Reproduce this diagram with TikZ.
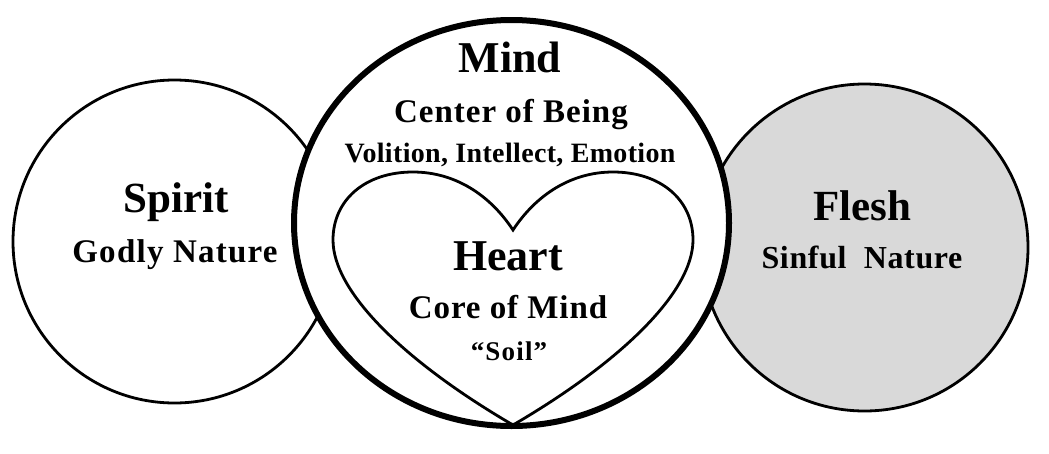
\documentclass[tikz,border=0pt]{standalone}
\usepackage{fontspec}
\setmainfont{Liberation Serif}
\definecolor{fleshgray}{HTML}{D9D9D9}
\tikzset{
  side/.style={draw=black, line width=2.8pt},
  mindring/.style={draw=black, fill=white, line width=6pt},
  heartline/.style={draw=black, line width=2.8pt},
  lbl/.style={inner sep=0pt, anchor=base, font=\bfseries},
}
\newcommand{\lsz}[2]{\fontsize{#1}{#1}\selectfont\addfontfeature{LetterSpace=#2}}
\begin{document}
\begin{tikzpicture}[x=1pt,y=-1pt]
\useasboundingbox (0,0) rectangle (1049,453);
% side circles
\draw[side, fill=white] (174.5,241.5) circle[radius=161.5];
\draw[side, fill=fleshgray] (864.5,247.5) circle[radius=163.5];
% mind ellipse
\draw[mindring] (511.5,223) ellipse[x radius=217.5, y radius=203];
% heart
\draw[heartline] (513,425)
  .. controls (405,362) and (333,292) .. (333,240)
  .. controls (333,200) and (365,172) .. (413,172)
  .. controls (455,172) and (490,195) .. (513,230)
  .. controls (536,195) and (571,172) .. (613,172)
  .. controls (661,172) and (693,200) .. (693,240)
  .. controls (693,292) and (621,362) .. (513,425) -- cycle;
% texts
\node[lbl, font=\bfseries\lsz{43}{0}] (spirit) at (176,212) {Spirit};
\node[lbl, font=\bfseries\lsz{33}{3.8}] (godly) at (175,262) {Godly Nature};
\node[lbl, font=\bfseries\lsz{43}{0}] (flesh) at (862,220) {Flesh};
\node[lbl, font=\bfseries\lsz{32}{2}] (sinful) at (862,268) {Sinful\ \ Nature};
\node[lbl, font=\bfseries\lsz{44}{0}] (mind) at (510,72) {Mind};
\node[lbl, font=\bfseries\lsz{33}{3}] (center) at (511,122) {Center of Being};
\node[lbl, font=\bfseries\lsz{28}{1.2}] (volition) at (510,162) {Volition, Intellect, Emotion};
\node[lbl, font=\bfseries\lsz{44}{0}] (heart) at (508,270) {Heart};
\node[lbl, font=\bfseries\lsz{33}{2.8}] (core) at (508,318) {Core of Mind};
\node[lbl, font=\bfseries\lsz{27}{4.4}] (soil) at (509,360) {“Soil”};
\end{tikzpicture}
\end{document}
